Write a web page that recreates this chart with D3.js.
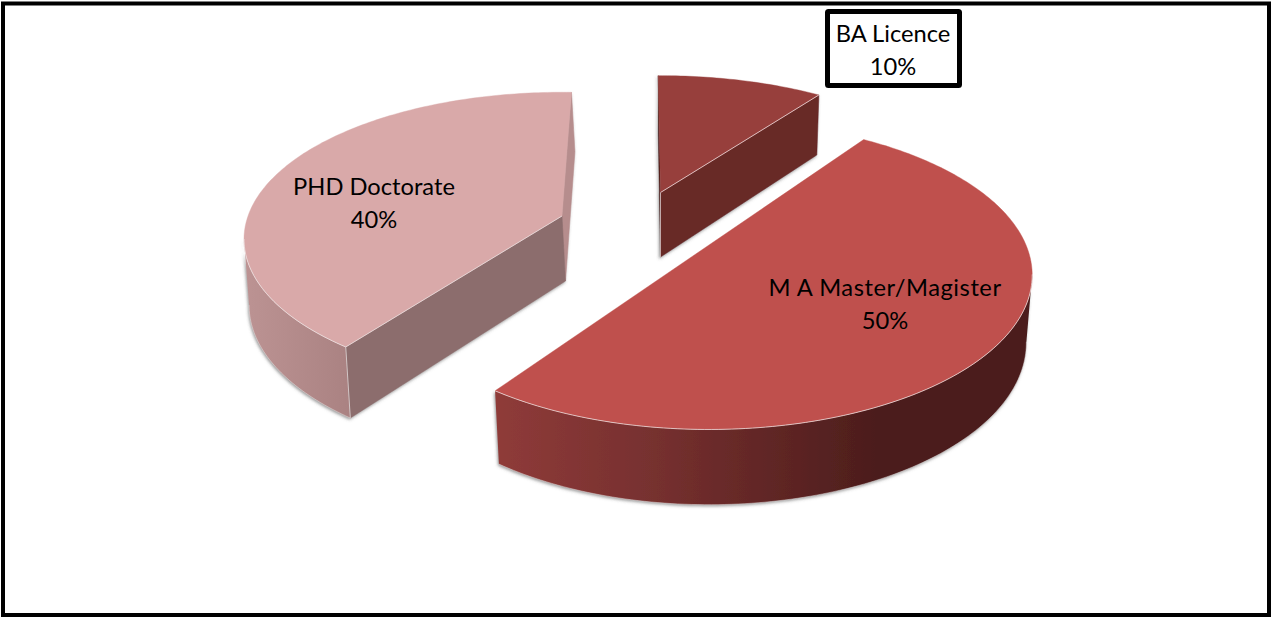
<!DOCTYPE html>
<html>
<head>
<meta charset="utf-8">
<script src="https://cdn.jsdelivr.net/npm/d3@7"></script>
<style>
html,body{margin:0;padding:0;background:#fff;}
svg{display:block;}
text{font-family:Lato,"Open Sans",sans-serif;fill:#000;}
</style>
</head>
<body>
<svg id="c" width="1271" height="617"></svg>
<script>
// ---- data ----
const categories = ["BA Licence", "M A Master/Magister", "PHD Doctorate"];
const shares = [10, 50, 40];

// ---- per-slice appearance ----
const topColors = ["#973f3c", "#bf504d", "#d9a9a9"];
const startFaceColors = ["#4a1a19", "#4a1c1b", "#8c6d6d"];
const endFaceColors = ["#682928", "#4a1c1b", "#b68d8d"];

// projected 3-D pie geometry, one entry per slice (exploded apex, ellipse radii, perspective)
const geometry = [
  {X:660.5, Y:192.5, rx:312, ry:139.6, k:.195, rot:[-.5,0],   D:64.5, e:.046, s:.987, a:0},
  {X:709,   Y:245,   rx:317, ry:148.5, k:.195, rot:[-1.5,-1.5], D:66,   e:.05,  s:.982,  a:0},
  {X:562,   Y:216,   rx:314, ry:143.3, k:.158, rot:[1,2],    D:65,   e:.046, s:.995, a:3.5}
];
const labelPos = [
  {x:893, y:[42,75]},
  {x:885, y:[296,329]},
  {x:374, y:[195,228]}
];
const labelLetterSpacing = [0, .55, 0];

const svg = d3.select("#c");
const defs = svg.append("defs");

const f = defs.append("filter").attr("id","sh").attr("x","-10%").attr("y","-10%").attr("width","120%").attr("height","125%");
f.append("feDropShadow").attr("dx",-1).attr("dy",1.5).attr("stdDeviation",1.8).attr("flood-color","#555").attr("flood-opacity",.6);

function grad(id,x1,x2,stops){
  const g = defs.append("linearGradient").attr("id",id).attr("gradientUnits","userSpaceOnUse")
    .attr("x1",x1).attr("x2",x2).attr("y1",0).attr("y2",0);
  stops.forEach(s=>g.append("stop").attr("offset",s[0]).attr("stop-color",s[1]));
}
grad("wall1",495,1030,[[0,"#8f3b39"],[.3,"#76302f"],[.58,"#5a2322"],[.72,"#4b1d1c"],[1,"#4b1d1c"]]);
grad("wall2",245,350,[[0,"#bc9393"],[1,"#aa8282"]]);

const pie = d3.pie().sort(null).value(d=>d);
const arcs = pie(shares);
const line = d3.line();

const deg = Math.PI/180;
function rimOffset(g,t){
  const w = 1 + g.k*Math.cos(t);
  return [g.rx*Math.sin(t)/w, -g.ry*Math.cos(t)/w];
}
const P = (g,d)=>[g.X+d[0], g.Y+d[1]];
const Q = (g,d)=>[g.X+g.a+g.s*d[0], g.Y+d[1]+g.D+g.e*d[1]];
function rim(g,t0,t1,fn){
  const n = Math.max(2,Math.ceil(Math.abs(t1-t0)/(1*deg)));
  return d3.range(n+1).map(i=>fn(g,rimOffset(g,t0+(t1-t0)*i/n)));
}

const walls = ["none","url(#wall1)","url(#wall2)"];
const wallRange = [null,[101,216],[216,261]];

arcs.forEach((d,i)=>{
  const g = geometry[i];
  const t0 = d.startAngle + g.rot[0]*deg, t1 = d.endAngle + g.rot[1]*deg;
  const sg = svg.append("g");
  const sides = sg.append("g").attr("filter","url(#sh)");

  // end cut face (back one), then start cut face, then outer wall
  const face = (t,col)=>{
    const e = rimOffset(g,t);
    sides.append("path")
      .attr("d",line([P(g,[0,0]),P(g,e),Q(g,e),Q(g,[0,0])])+"Z")
      .attr("fill",col).attr("stroke",col).attr("stroke-width",.5);
  };
  if(i===0) face(t0,startFaceColors[i]);
  if(i!==1) face(t1,endFaceColors[i]);
  let a, b;
  if(wallRange[i]){
    a = Math.max(wallRange[i][0]*deg,t0); b = Math.min(wallRange[i][1]*deg,t1);
    const pts = rim(g,a,b,P).concat(rim(g,b,a,Q));
    sides.append("path").attr("d",line(pts)+"Z").attr("fill",walls[i]);
  }
  if(i===2) face(t0,startFaceColors[i]);

  // light seams
  const e0 = rimOffset(g,t0);
  if(i===0){
    sg.append("path").attr("d",line([P(g,[0,0]),Q(g,[0,0])]))
      .attr("stroke","#e8e0e0").attr("stroke-opacity",.7).attr("stroke-width",1).attr("fill","none");
  } else {
    if(i===2) sg.append("path").attr("d",line([P(g,e0),Q(g,e0)]))
      .attr("stroke","#e8e0e0").attr("stroke-opacity",.75).attr("stroke-width",1).attr("fill","none");
    sg.append("path").attr("d",line(rim(g,a,b,Q)))
      .attr("stroke","#e8e0e0").attr("stroke-opacity",.6).attr("stroke-width",.8).attr("fill","none");
  }

  // top surface
  const outline = [P(g,[0,0])].concat(rim(g,t0,t1,P));
  sg.append("path").attr("d",line(outline)+"Z").attr("fill",topColors[i])
    .attr("stroke",topColors[i]).attr("stroke-width",.4);
  if(i===0){
    sg.append("path").attr("d",line([P(g,[0,0]),P(g,rimOffset(g,t1))]))
      .attr("stroke","#f0dcdc").attr("stroke-opacity",.8).attr("stroke-width",1).attr("fill","none");
  } else {
    const lead = i===2 ? [P(g,[0,0])] : [];
    sg.append("path").attr("d",line(lead.concat(rim(g,a,b,P))))
      .attr("stroke","#f0e8e8").attr("stroke-opacity",.7).attr("stroke-width",1).attr("fill","none");
  }
});

// BA label box
svg.append("rect").attr("x",827.5).attr("y",11.5).attr("width",132).attr("height",74).attr("rx",1)
  .attr("fill","#fff").attr("stroke","#000").attr("stroke-width",5);

// labels
arcs.forEach((d,i)=>{
  const t = svg.append("text").attr("text-anchor","middle").attr("font-size",23.7);
  t.append("tspan").attr("x",labelPos[i].x).attr("y",labelPos[i].y[0]).attr("letter-spacing",labelLetterSpacing[i]).text(categories[i]);
  t.append("tspan").attr("x",labelPos[i].x).attr("y",labelPos[i].y[1]).text(d3.format(".0%")(shares[i]/d3.sum(shares)));
});

// chart frame
svg.append("rect").attr("x",3).attr("y",3.5).attr("width",1266).attr("height",611.5)
  .attr("fill","none").attr("stroke","#000").attr("stroke-width",4);
</script>
</body>
</html>
